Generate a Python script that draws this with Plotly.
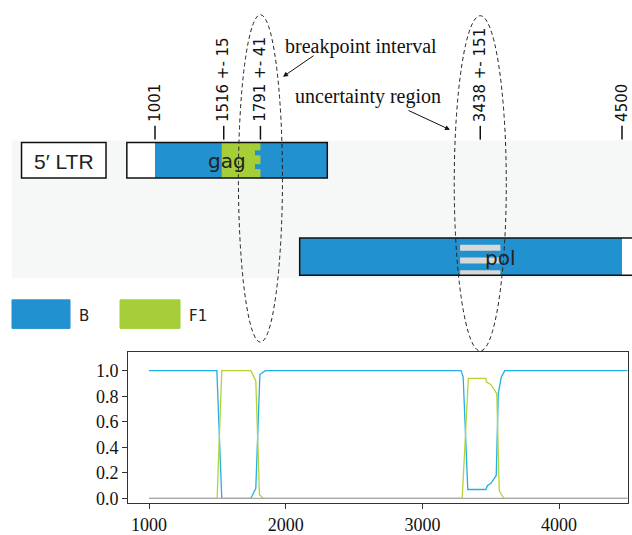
import plotly.graph_objects as go

# ---------------- data ----------------
# genome map (HXB2 coordinates)
gene_names = ["5′ LTR", "gag", "pol"]
gene_start = [1, 790, 2085]
gene_end = [634, 2292, 5096]
gene_row = [0, 0, 1]
aln_start = 1001
aln_end = 4500

# breakpoints
bp_pos = [1516, 1791, 3438]
bp_err = [15, 41, 151]
tick_pos = [1001, 1516, 1791, 3438, 4500]
tick_text = ["1001", "1516 +- 15", "1791 +- 41", "3438 +- 151", "4500"]

# legend
subtypes = ["B", "F1"]
subtype_colors = ["#2191CF", "#A6CE39"]

# recombination support curves
B_pos = [1000, 1496, 1532, 1745, 1781, 1811, 1850, 3283, 3298, 3332, 3465, 3475,
         3503, 3540, 3555, 3577, 3603, 4500]
B_val = [1.0, 1.0, 0.0, 0.0, 0.08, 0.97, 1.0, 1.0, 0.95, 0.07, 0.07, 0.10,
         0.12, 0.18, 0.82, 0.95, 1.0, 1.0]
F1_pos = [1000, 1498, 1532, 1745, 1781, 1808, 1837, 3291, 3336, 3463, 3470,
          3502, 3544, 3562, 3596, 4500]
F1_val = [0.0, 0.0, 1.0, 1.0, 0.92, 0.03, 0.0, 0.0, 0.94, 0.94, 0.91,
          0.89, 0.82, 0.06, 0.0, 0.0]
other_pos = [1000, 4500]
other_val = [0.0, 0.0]

x_ticks = [1000, 2000, 3000, 4000]
y_ticks = [0.0, 0.2, 0.4, 0.6, 0.8, 1.0]
y_tick_text = ["0.0", "0.2", "0.4", "0.6", "0.8", "1.0"]

# ---------------- layout constants ----------------
W, H = 632, 535
row_y = [(145, 181), (242, 280)]          # pixel rows of the gene map
teeth_rows = [(145, 153), (158, 167), (172, 181)]
stripe_rows = [(249, 255), (262, 268), (275, 280)]
BLUE_LINE = "#22AEE6"
GREEN_LINE = "#B5D334"
SANS = "DejaVu Sans"
SERIF = "Liberation Serif"

fig = go.Figure()

# bottom panel traces
fig.add_trace(go.Scatter(x=B_pos, y=B_val, mode="lines", xaxis="x2", yaxis="y2",
                         line=dict(color=BLUE_LINE, width=1.3), showlegend=False))
fig.add_trace(go.Scatter(x=F1_pos, y=F1_val, mode="lines", xaxis="x2", yaxis="y2",
                         line=dict(color=GREEN_LINE, width=1.3), showlegend=False))
fig.add_trace(go.Scatter(x=other_pos, y=other_val, mode="lines", xaxis="x2", yaxis="y2",
                         line=dict(color="#A8A8A8", width=1.3), showlegend=False))
# dummy trace for top axes
fig.add_trace(go.Scatter(x=[aln_start], y=[0], mode="markers", xaxis="x", yaxis="y",
                         marker=dict(opacity=0), showlegend=False, hoverinfo="skip"))

shapes = []
annotations = []

# light band behind gene map
shapes.append(dict(type="rect", xref="paper", yref="y", x0=12 / W, x1=1, y0=143, y1=283,
                   fillcolor="#F6F8F8", line=dict(width=0), layer="below"))

for name, s, e, r in zip(gene_names, gene_start, gene_end, gene_row):
    y0, y1 = row_y[r]
    shapes.append(dict(type="rect", xref="x", yref="y", x0=s, x1=e, y0=y0, y1=y1,
                       fillcolor="white", line=dict(width=0)))
    a0, a1 = max(s, aln_start), min(e, aln_end)
    if a1 > a0:
        shapes.append(dict(type="rect", xref="x", yref="y", x0=a0, x1=a1, y0=y0, y1=y1,
                           fillcolor=subtype_colors[0], line=dict(width=0)))
    if name == "gag":
        g0 = bp_pos[0] - bp_err[0]
        g1 = bp_pos[1] - bp_err[1]
        shapes.append(dict(type="rect", xref="x", yref="y", x0=g0, x1=g1, y0=y0, y1=y1,
                           fillcolor=subtype_colors[1], line=dict(width=0)))
        for ty0, ty1 in teeth_rows:
            shapes.append(dict(type="rect", xref="x", yref="y", x0=g1 - 5, x1=bp_pos[1],
                               y0=ty0, y1=ty1, fillcolor=subtype_colors[1], line=dict(width=0)))
    if name == "pol":
        for sy0, sy1 in stripe_rows:
            shapes.append(dict(type="rect", xref="x", yref="y",
                               x0=bp_pos[2] - bp_err[2], x1=bp_pos[2] + bp_err[2],
                               y0=sy0, y1=sy1, fillcolor="#D8D8D8", line=dict(width=0)))
    shapes.append(dict(type="rect", xref="x", yref="y", x0=s, x1=e, y0=y0, y1=y1,
                       fillcolor="rgba(0,0,0,0)", line=dict(color="#111", width=1.5)))
    is_ltr = name.startswith("5")
    annotations.append(dict(xref="x", yref="y", x=(s + e) / 2, y=(y0 + y1) / 2 + 1,
                            text=name, showarrow=False,
                            font=dict(family="Liberation Sans" if is_ltr else SANS,
                                      size=21 if is_ltr else 20, color="#222")))

# ticks over gene map
for p, t in zip(tick_pos, tick_text):
    shapes.append(dict(type="line", xref="x", yref="y", x0=p, x1=p, y0=128, y1=142,
                       line=dict(color="#111", width=1.5)))
    annotations.append(dict(xref="x", yref="y", x=p, y=126, text=t, textangle=-90,
                            showarrow=False, xanchor="center", yanchor="bottom",
                            font=dict(family=SANS, size=15, color="#111")))

# dashed ellipses around breakpoints
shapes.append(dict(type="circle", xref="x", yref="y", x0=bp_pos[1] - 165, x1=bp_pos[1] + 165,
                   y0=15, y1=348, line=dict(color="#222", width=1, dash="4px,3px")))
shapes.append(dict(type="circle", xref="x", yref="y", x0=bp_pos[2] - 195, x1=bp_pos[2] + 195,
                   y0=16, y1=357, line=dict(color="#222", width=1, dash="4px,3px")))

# callouts
annotations.append(dict(xref="paper", yref="y", x=283 / W, y=47, text="breakpoint interval",
                        showarrow=False, xanchor="left", yanchor="middle",
                        font=dict(family=SERIF, size=20, color="#111")))
annotations.append(dict(xref="paper", yref="y", x=293 / W, y=98, text="uncertainty region",
                        showarrow=False, xanchor="left", yanchor="middle",
                        font=dict(family=SERIF, size=20, color="#111")))
annotations.append(dict(xref="paper", yref="y", x=283 / W, y=78, text="", showarrow=True,
                        ax=32, ay=-22, arrowhead=2, arrowsize=1, arrowwidth=1, arrowcolor="#111"))
annotations.append(dict(xref="paper", yref="y", x=450 / W, y=132, text="", showarrow=True,
                        ax=-43, ay=-20, arrowhead=2, arrowsize=1, arrowwidth=1, arrowcolor="#111"))

# legend
leg_x = [(12, 70), (120, 180)]
for (lx0, lx1), name, col in zip(leg_x, subtypes, subtype_colors):
    shapes.append(dict(type="rect", xref="paper", yref="y", x0=lx0 / W, x1=lx1 / W,
                       y0=305, y1=334, fillcolor=col, line=dict(color=col, width=1)))
    annotations.append(dict(xref="paper", yref="y", x=(lx1 + 7) / W, y=321, text=name,
                            showarrow=False, xanchor="left", yanchor="middle",
                            font=dict(family=SANS, size=15, color="#222")))

fig.update_layout(
    width=W, height=H,
    margin=dict(l=0, r=0, t=0, b=0),
    paper_bgcolor="white", plot_bgcolor="rgba(0,0,0,0)",
    showlegend=False,
    xaxis=dict(domain=[0, 1], range=[-160.3, 4574.9], visible=False, fixedrange=True),
    yaxis=dict(domain=[0, 1], range=[H, 0], visible=False, fixedrange=True),
    xaxis2=dict(domain=[128 / W, 628 / W], range=[846, 4504], anchor="y2",
                showgrid=False, zeroline=False, showline=True, linecolor="#333",
                linewidth=1, mirror=True, ticks="outside", ticklen=5, tickcolor="#333",
                tickvals=x_ticks, tickfont=dict(family=SERIF, size=18, color="#111")),
    yaxis2=dict(domain=[(H - 512) / H, (H - 358) / H], range=[-0.0385, 1.146], anchor="x2",
                showgrid=False, zeroline=False, showline=True, linecolor="#333",
                linewidth=1, mirror=True, ticks="outside", ticklen=5, tickcolor="#333",
                tickvals=y_ticks, ticktext=y_tick_text,
                tickfont=dict(family=SERIF, size=18, color="#111")),
    shapes=shapes,
    annotations=annotations,
)

fig.write_html("out.html", config={"displayModeBar": False},
               post_script="document.body.style.margin='0';document.body.style.overflow='hidden';")
